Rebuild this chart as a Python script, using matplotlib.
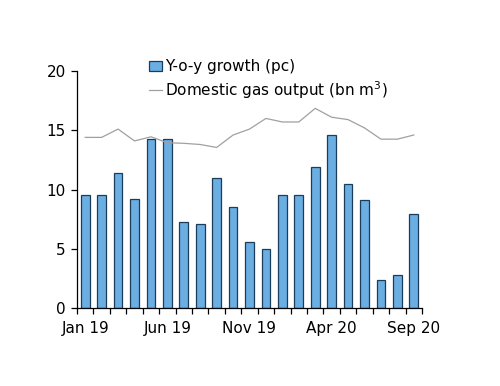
import matplotlib

matplotlib.use("Agg")
import matplotlib.pyplot as plt
import numpy as np

months = [
    "Jan 19", "Feb 19", "Mar 19", "Apr 19", "May 19", "Jun 19", "Jul 19",
    "Aug 19", "Sep 19", "Oct 19", "Nov 19", "Dec 19", "Jan 20", "Feb 20",
    "Mar 20", "Apr 20", "May 20", "Jun 20", "Jul 20", "Aug 20", "Sep 20",
]
yoy_growth = [9.5, 9.5, 11.4, 9.2, 14.3, 14.3, 7.3, 7.1, 11.0, 8.5, 5.6,
              5.0, 9.5, 9.5, 11.9, 14.6, 10.5, 9.1, 2.4, 2.8, 7.9]
gas_output = [14.4, 14.4, 15.1, 14.1, 14.45, 13.95, 13.9, 13.8, 13.55, 14.6,
              15.1, 16.0, 15.7, 15.7, 16.85, 16.1, 15.9, 15.2, 14.25, 14.25, 14.6]
label_months = ["Jan 19", "Jun 19", "Nov 19", "Apr 20", "Sep 20"]

fig = plt.figure(figsize=(5.0, 3.86), dpi=100)
ax = fig.add_axes([0.154, 0.202, 0.69, 0.614])

x = np.arange(len(months))
bars = ax.bar(x, yoy_growth, width=0.53, color="#6aaee2", edgecolor="#1c3c5c",
              linewidth=0.9, label="Y-o-y growth (pc)", zorder=2)
line, = ax.plot(x, gas_output, color="#a0a0a0", linewidth=0.9,
                label="Domestic gas output (bn m$^3$)", zorder=3)

ax.set_xlim(-0.5, len(months) - 0.5)
ax.set_ylim(0, 20)
ax.set_yticks([0, 5, 10, 15, 20])

# boundary ticks without labels, labels at month centres
ax.set_xticks(np.arange(-0.5, len(months)), labels=[])
ax.set_xticks([months.index(m) for m in label_months], labels=label_months,
              minor=True)
ax.tick_params(axis="x", which="major", length=4, width=0.9, direction="out")
ax.tick_params(axis="x", which="minor", length=0, pad=9, labelsize=11)
ax.tick_params(axis="y", length=4, width=0.9, labelsize=11, pad=4)

for side in ("top", "right"):
    ax.spines[side].set_visible(False)
for side in ("left", "bottom"):
    ax.spines[side].set_linewidth(0.9)

fig.legend(handles=[bars, line], loc="upper left",
           bbox_to_anchor=(0.285, 0.862), frameon=False,
           fontsize=11, handlelength=0.9, handletextpad=0.15,
           labelspacing=0.3, borderaxespad=0)

fig.savefig("out.png", dpi=100)
